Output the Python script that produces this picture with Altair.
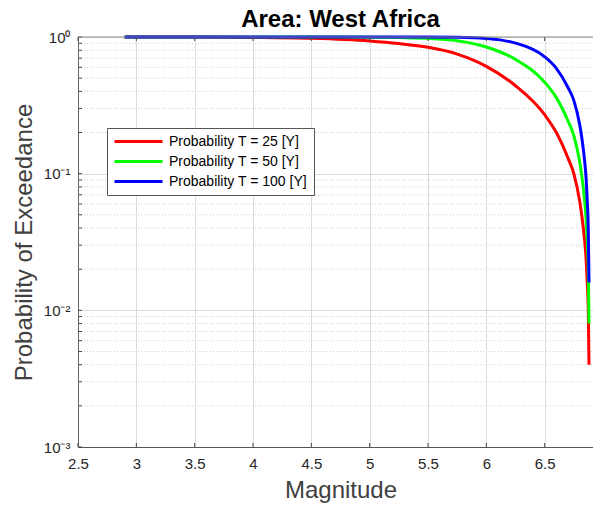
import altair as alt
import pandas as pd

# ---- data ----
magnitude = [2.9, 3.0, 3.5, 4.0, 4.5, 5.0, 5.25, 5.5, 5.75, 6.0, 6.25, 6.5,
             6.6, 6.7, 6.75, 6.8, 6.82, 6.84, 6.855, 6.865, 6.874, 6.88]
p_t25 = [0.9995, 0.9993, 0.998, 0.993, 0.978, 0.935, 0.895, 0.84, 0.75, 0.61,
         0.44, 0.27, 0.2, 0.13, 0.1, 0.063, 0.048, 0.034, 0.024, 0.016, 0.010, 0.004]
p_t50 = [1.0, 1.0, 0.99999, 0.99995, 0.9995, 0.996, 0.99, 0.978, 0.94, 0.845,
         0.686, 0.467, 0.36, 0.243, 0.19, 0.122, 0.094, 0.067, 0.047, 0.032, 0.020, 0.008]
p_t100 = [1.0, 1.0, 1.0, 1.0, 0.99999, 0.99998, 0.99988, 0.9993, 0.996, 0.975,
          0.902, 0.716, 0.59, 0.427, 0.344, 0.229, 0.179, 0.13, 0.093, 0.063, 0.039, 0.016]

series_names = ["Probability T = 25 [Y]", "Probability T = 50 [Y]", "Probability T = 100 [Y]"]
series_colors = ["#ff0000", "#00ff00", "#0000ff"]

x_ticks = [2.5, 3, 3.5, 4, 4.5, 5, 5.5, 6, 6.5, 7]
y_ticks = [0.001, 0.01, 0.1, 1]
y_tick_labels = ["10⁻³", "10⁻²", "10⁻¹", "10⁰"]
y_minor = [m * d for d in [0.001, 0.01, 0.1] for m in [2, 3, 4, 5, 6, 7, 8, 9]]

rows = []
for name, vals in zip(series_names, [p_t25, p_t50, p_t100]):
    for m, p in zip(magnitude, vals):
        rows.append({"Magnitude": m, "Probability": p, "Series": name})
df = pd.DataFrame(rows)

minor_df = pd.DataFrame({"Probability": y_minor})
yt_df = pd.DataFrame({"Probability": y_minor + y_ticks})
xt_df = pd.DataFrame({"Magnitude": x_ticks})
one_df = pd.DataFrame({"a": [0]})

W_RANGE = 525   # plot extends past the right edge of the picture, as in the reference
W_VIEW = 515
H = 410

xscale = alt.Scale(domain=[2.5, 7], range=[0, W_RANGE], nice=False, zero=False)
yscale = alt.Scale(type="log", domain=[0.001, 1], nice=False)

label_expr = " : ".join(
    [f"datum.value < {v * 1.5} ? '{l}'" for v, l in zip(y_ticks[:-1], y_tick_labels[:-1])]
) + f" : '{y_tick_labels[-1]}'"

minor_grid = alt.Chart(minor_df).mark_rule(
    color="#cfcfcf", strokeWidth=1, strokeDash=[1, 2]
).encode(
    y=alt.Y("Probability:Q", scale=yscale),
    x=alt.value(0),
    x2=alt.value(W_RANGE),
)

lines = alt.Chart(df).mark_line(strokeWidth=3, interpolate="monotone").encode(
    x=alt.X("Magnitude:Q", scale=xscale,
            axis=alt.Axis(values=x_ticks, format="~g", title="Magnitude", grid=True,
                          gridColor="#dcdcdc", ticks=False, domainColor="#555555",
                          labelPadding=9, titlePadding=7, labelFlush=False)),
    y=alt.Y("Probability:Q", scale=yscale,
            axis=alt.Axis(values=y_ticks, labelExpr=label_expr,
                          title="Probability of Exceedance", grid=True,
                          gridColor="#dcdcdc", ticks=False, domainColor="#666666",
                          labelPadding=8, titlePadding=7)),
    color=alt.Color("Series:N",
                    scale=alt.Scale(domain=series_names, range=series_colors),
                    legend=alt.Legend(title=None, orient="none", legendX=29, legendY=91,
                                      symbolType="M-1,0H7", symbolSize=144,
                                      symbolStrokeWidth=3, labelFontSize=14,
                                      labelOffset=41, padding=6, rowPadding=5,
                                      strokeColor="#555555", fillColor="white",
                                      labelColor="#000000", labelFont="Liberation Sans")),
    order=alt.Order("Series:N", sort="ascending"),
)

y_inner_ticks = alt.Chart(yt_df).mark_rule(color="#444444", strokeWidth=1).encode(
    y=alt.Y("Probability:Q", scale=yscale), x=alt.value(0), x2=alt.value(4)
)
x_inner_ticks_b = alt.Chart(xt_df).mark_rule(color="#444444", strokeWidth=1).encode(
    x=alt.X("Magnitude:Q", scale=xscale), y=alt.value(H), y2=alt.value(H - 4)
)
x_inner_ticks_t = alt.Chart(xt_df).mark_rule(color="#444444", strokeWidth=1).encode(
    x=alt.X("Magnitude:Q", scale=xscale), y=alt.value(0), y2=alt.value(4)
)
top_border = alt.Chart(one_df).mark_rule(color="#888888", strokeWidth=1).encode(
    x=alt.value(0), x2=alt.value(W_RANGE), y=alt.value(0)
)

chart = alt.layer(
    minor_grid, lines, y_inner_ticks, x_inner_ticks_b, x_inner_ticks_t, top_border
).properties(
    width=W_VIEW,
    height=H,
    padding={"left": 70, "top": 29, "right": 0, "bottom": 56},
    autosize=alt.AutoSizeParams(type="none"),
    background="white",
    title=alt.Title("Area: West Africa", fontSize=24, fontWeight="bold",
                    font="Liberation Sans", color="#000000", offset=2,
                    anchor="middle", dx=5, dy=4),
).configure_view(stroke=None).configure_axis(
    labelFont="Liberation Sans", titleFont="Liberation Sans",
    labelFontSize=15, titleFontSize=24, labelColor="#262626",
    titleColor="#404040", titleFontWeight="normal",
)

chart.save("out.html", embed_options={"renderer": "svg", "actions": False})
